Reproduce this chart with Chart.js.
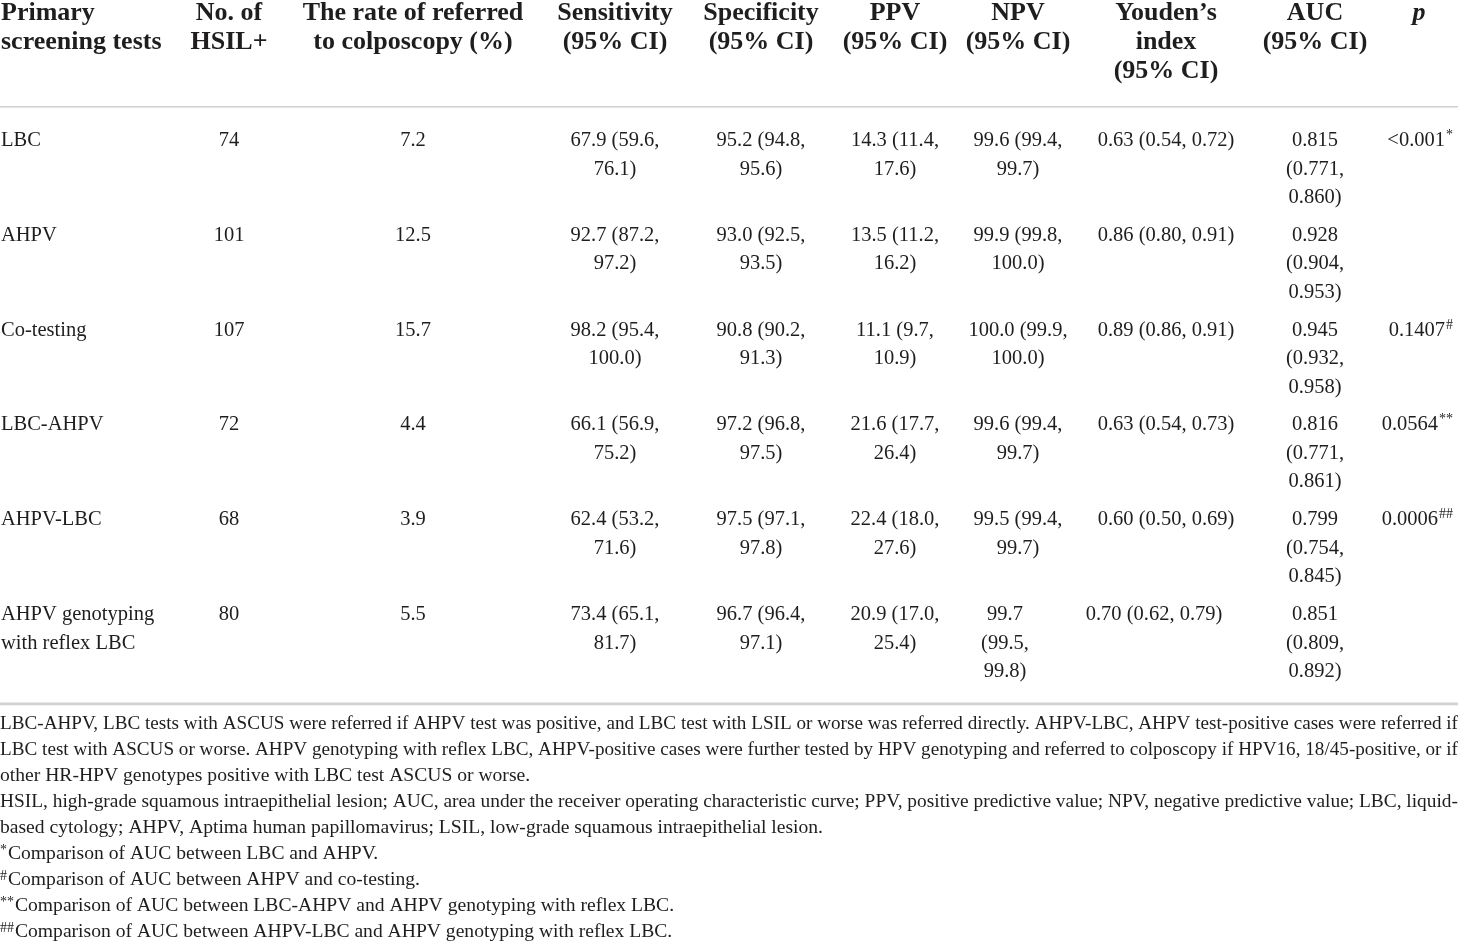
<!DOCTYPE html>
<html>
<head>
<meta charset="utf-8">
<script src="https://cdn.jsdelivr.net/npm/chart.js@4.4.1/dist/chart.umd.min.js"></script>
<style>
  html, body { margin: 0; padding: 0; background: #ffffff; }
  #wrap { width: 1460px; height: 943px; position: relative; }
</style>
</head>
<body>
<div id="wrap"><canvas id="c"></canvas></div>
<script>
// ---------- DATA ----------
const categories = ['LBC', 'AHPV', 'Co-testing', 'LBC-AHPV', 'AHPV-LBC', 'AHPV genotyping with reflex LBC'];
const hsilCounts = [74, 101, 107, 72, 68, 80];
const referralRate = [7.2, 12.5, 15.7, 4.4, 3.9, 5.5];
const sensitivity = [67.9, 92.7, 98.2, 66.1, 62.4, 73.4];
const sensitivityCI = [[59.6, 76.1], [87.2, 97.2], [95.4, 100.0], [56.9, 75.2], [53.2, 71.6], [65.1, 81.7]];
const specificity = [95.2, 93.0, 90.8, 97.2, 97.5, 96.7];
const specificityCI = [[94.8, 95.6], [92.5, 93.5], [90.2, 91.3], [96.8, 97.5], [97.1, 97.8], [96.4, 97.1]];
const ppv = [14.3, 13.5, 11.1, 21.6, 22.4, 20.9];
const ppvCI = [[11.4, 17.6], [11.2, 16.2], [9.7, 10.9], [17.7, 26.4], [18.0, 27.6], [17.0, 25.4]];
const npv = [99.6, 99.9, 100.0, 99.6, 99.5, 99.7];
const npvCI = [[99.4, 99.7], [99.8, 100.0], [99.9, 100.0], [99.4, 99.7], [99.4, 99.7], [99.5, 99.8]];
const youden = [0.63, 0.86, 0.89, 0.63, 0.60, 0.70];
const youdenCI = [[0.54, 0.72], [0.80, 0.91], [0.86, 0.91], [0.54, 0.73], [0.50, 0.69], [0.62, 0.79]];
const auc = [0.815, 0.928, 0.945, 0.816, 0.799, 0.851];
const aucCI = [[0.771, 0.860], [0.904, 0.953], [0.932, 0.958], [0.771, 0.861], [0.754, 0.845], [0.809, 0.892]];
const pValues = ['<0.001', '', '0.1407', '0.0564', '0.0006', ''];
const pMarks = ['*', '', '#', '**', '##', ''];

const headerLabels = [
  ['Primary', 'screening tests'],
  ['No. of', 'HSIL+'],
  ['The rate of referred', 'to colposcopy (%)'],
  ['Sensitivity', '(95% CI)'],
  ['Specificity', '(95% CI)'],
  ['PPV', '(95% CI)'],
  ['NPV', '(95% CI)'],
  ['Youden\u2019s', 'index', '(95% CI)'],
  ['AUC', '(95% CI)'],
  ['p']
];

const footParagraphs = [
  { mark: '', lines: [
    'LBC-AHPV, LBC tests with ASCUS were referred if AHPV test was positive, and LBC test with LSIL or worse was referred directly. AHPV-LBC, AHPV test-positive cases were referred if',
    'LBC test with ASCUS or worse. AHPV genotyping with reflex LBC, AHPV-positive cases were further tested by HPV genotyping and referred to colposcopy if HPV16, 18/45-positive, or if',
    'other HR-HPV genotypes positive with LBC test ASCUS or worse.'] },
  { mark: '', lines: [
    'HSIL, high-grade squamous intraepithelial lesion; AUC, area under the receiver operating characteristic curve; PPV, positive predictive value; NPV, negative predictive value; LBC, liquid-',
    'based cytology; AHPV, Aptima human papillomavirus; LSIL, low-grade squamous intraepithelial lesion.'] },
  { mark: '*', lines: ['Comparison of AUC between LBC and AHPV.'] },
  { mark: '#', lines: ['Comparison of AUC between AHPV and co-testing.'] },
  { mark: '**', lines: ['Comparison of AUC between LBC-AHPV and AHPV genotyping with reflex LBC.'] },
  { mark: '##', lines: ['Comparison of AUC between AHPV-LBC and AHPV genotyping with reflex LBC.'] }
];

// ---------- LAYOUT / STYLE ----------
const FONT_FAMILY = '"Liberation Serif", "Times New Roman", serif';
const HEADER_SIZE = 26;
const HEADER_FONT = 'bold ' + HEADER_SIZE + 'px ' + FONT_FAMILY;
const BODY_SIZE = 20.5;
const FOOT_SIZE = 19.6;
const TEXT_COLOR = '#1f1d1e';
const RULE_COLOR = '#d2d2d2';
const colCenters = [1, 229, 413, 615, 761, 895, 1018, 1166, 1315, 1419];
const colWrap = [170, 80, 80, 118, 118, 118, 118, 150, 80, 100];
const cellTweaks = { '5-6': { dx: -13, wrap: 80 }, '5-7': { dx: -12 } };
const pRightEdge = 1453;
const tableRight = 1458;

function f1(v) { return v.toFixed(1); }
function f2(v) { return v.toFixed(2); }
function f3(v) { return v.toFixed(3); }
function ciText(est, ci, fmt) { return fmt(est) + ' (' + fmt(ci[0]) + ', ' + fmt(ci[1]) + ')'; }

function cellText(r, c) {
  switch (c) {
    case 0: return categories[r];
    case 1: return String(hsilCounts[r]);
    case 2: return f1(referralRate[r]);
    case 3: return ciText(sensitivity[r], sensitivityCI[r], f1);
    case 4: return ciText(specificity[r], specificityCI[r], f1);
    case 5: return ciText(ppv[r], ppvCI[r], f1);
    case 6: return ciText(npv[r], npvCI[r], f1);
    case 7: return ciText(youden[r], youdenCI[r], f2);
    case 8: return ciText(auc[r], aucCI[r], f3);
  }
  return '';
}

function wrapText(ctx, text, maxW) {
  const words = text.split(' ');
  const lines = [];
  let cur = '';
  for (const w of words) {
    const t = cur ? cur + ' ' + w : w;
    if (cur && ctx.measureText(t).width > maxW) { lines.push(cur); cur = w; }
    else cur = t;
  }
  if (cur) lines.push(cur);
  return lines;
}

function drawJustified(ctx, text, x, y, target) {
  const natural = ctx.measureText(text).width;
  const words = text.split(' ');
  if (natural >= target || words.length < 2) {
    ctx.save();
    ctx.translate(x, y);
    ctx.scale(Math.min(1, target / natural), 1);
    ctx.fillText(text, 0, 0);
    ctx.restore();
    return;
  }
  const wordsW = words.reduce((s, w) => s + ctx.measureText(w).width, 0);
  const gap = (target - wordsW) / (words.length - 1);
  let cx = x;
  for (const w of words) { ctx.fillText(w, cx, y); cx += ctx.measureText(w).width + gap; }
}

const tablePlugin = {
  id: 'tablePlugin',
  beforeDraw(chart) {
    const ctx = chart.ctx;
    ctx.save();
    ctx.fillStyle = '#ffffff';
    ctx.fillRect(0, 0, chart.width, chart.height);
    ctx.restore();
  },
  afterDraw(chart) {
    const ctx = chart.ctx;
    const yScale = chart.scales.y;
    const halfBand = (yScale.getPixelForValue(1) - yScale.getPixelForValue(0)) / 2;
    ctx.save();
    ctx.fillStyle = TEXT_COLOR;
    ctx.textBaseline = 'alphabetic';

    // header
    headerLabels.forEach((lines, c) => {
      lines.forEach((t, li) => {
        const y = 19.5 + li * 29;
        ctx.font = c === 9 ? 'italic bold ' + HEADER_SIZE + 'px ' + FONT_FAMILY : HEADER_FONT;
        if (c === 0) { ctx.textAlign = 'left'; ctx.fillText(t, colCenters[0], y); }
        else { ctx.textAlign = 'center'; ctx.fillText(t, colCenters[c], y); }
      });
    });

    // rules
    ctx.fillStyle = RULE_COLOR;
    ctx.fillRect(0, 106, tableRight, 1.6);
    ctx.fillRect(0, 702.5, tableRight, 2.8);
    ctx.fillStyle = TEXT_COLOR;

    // body
    const bodyFont = BODY_SIZE + 'px ' + FONT_FAMILY;
    const supFont = '14px ' + FONT_FAMILY;
    categories.forEach((cat, r) => {
      const base = yScale.getPixelForValue(r) - halfBand + 28;
      for (let c = 0; c < 9; c++) {
        ctx.font = bodyFont;
        const tw = cellTweaks[r + '-' + c] || {};
        const lines = wrapText(ctx, cellText(r, c), tw.wrap || colWrap[c]);
        lines.forEach((t, li) => {
          const y = base + li * 28.5;
          if (c === 0) { ctx.textAlign = 'left'; ctx.fillText(t, colCenters[0], y); }
          else { ctx.textAlign = 'center'; ctx.fillText(t, colCenters[c] + (tw.dx || 0), y); }
        });
      }
      if (pValues[r]) {
        ctx.textAlign = 'left';
        ctx.font = bodyFont;
        const mw = ctx.measureText(pValues[r]).width;
        ctx.font = supFont;
        const sw = ctx.measureText(pMarks[r]).width;
        const x0 = pRightEdge - mw - sw - 1;
        ctx.font = bodyFont;
        ctx.fillText(pValues[r], x0, base);
        ctx.font = supFont;
        ctx.fillText(pMarks[r], x0 + mw + 1, base - 7);
      }
    });

    // footnotes
    ctx.textAlign = 'left';
    const footFont = FOOT_SIZE + 'px ' + FONT_FAMILY;
    const footSup = '14px ' + FONT_FAMILY;
    let li = 0;
    footParagraphs.forEach(p => {
      p.lines.forEach((t, k) => {
        const y = 729 + li * 26;
        let x = 0;
        if (p.mark && k === 0) {
          ctx.font = footSup;
          ctx.fillText(p.mark, 0, y - 5);
          x = ctx.measureText(p.mark).width + 1;
        }
        ctx.font = footFont;
        const isLast = k === p.lines.length - 1;
        if (!isLast) drawJustified(ctx, t, x, y, tableRight - x);
        else ctx.fillText(t, x, y);
        li++;
      });
    });
    ctx.restore();
  }
};

new Chart(document.getElementById('c'), {
  type: 'bar',
  data: {
    labels: categories,
    datasets: [{ label: 'No. of HSIL+', data: hsilCounts, backgroundColor: 'rgba(0,0,0,0)', borderWidth: 0 }]
  },
  options: {
    indexAxis: 'y',
    responsive: true,
    maintainAspectRatio: false,
    animation: false,
    layout: { padding: { top: 118, bottom: 256.2, left: 0, right: 0 } },
    plugins: { legend: { display: false }, tooltip: { enabled: false }, title: { display: false } },
    scales: {
      x: { display: false, min: 0, max: 200 },
      y: { display: false, type: 'category', offset: true, grid: { display: false } }
    }
  },
  plugins: [tablePlugin]
});
</script>
</body>
</html>
